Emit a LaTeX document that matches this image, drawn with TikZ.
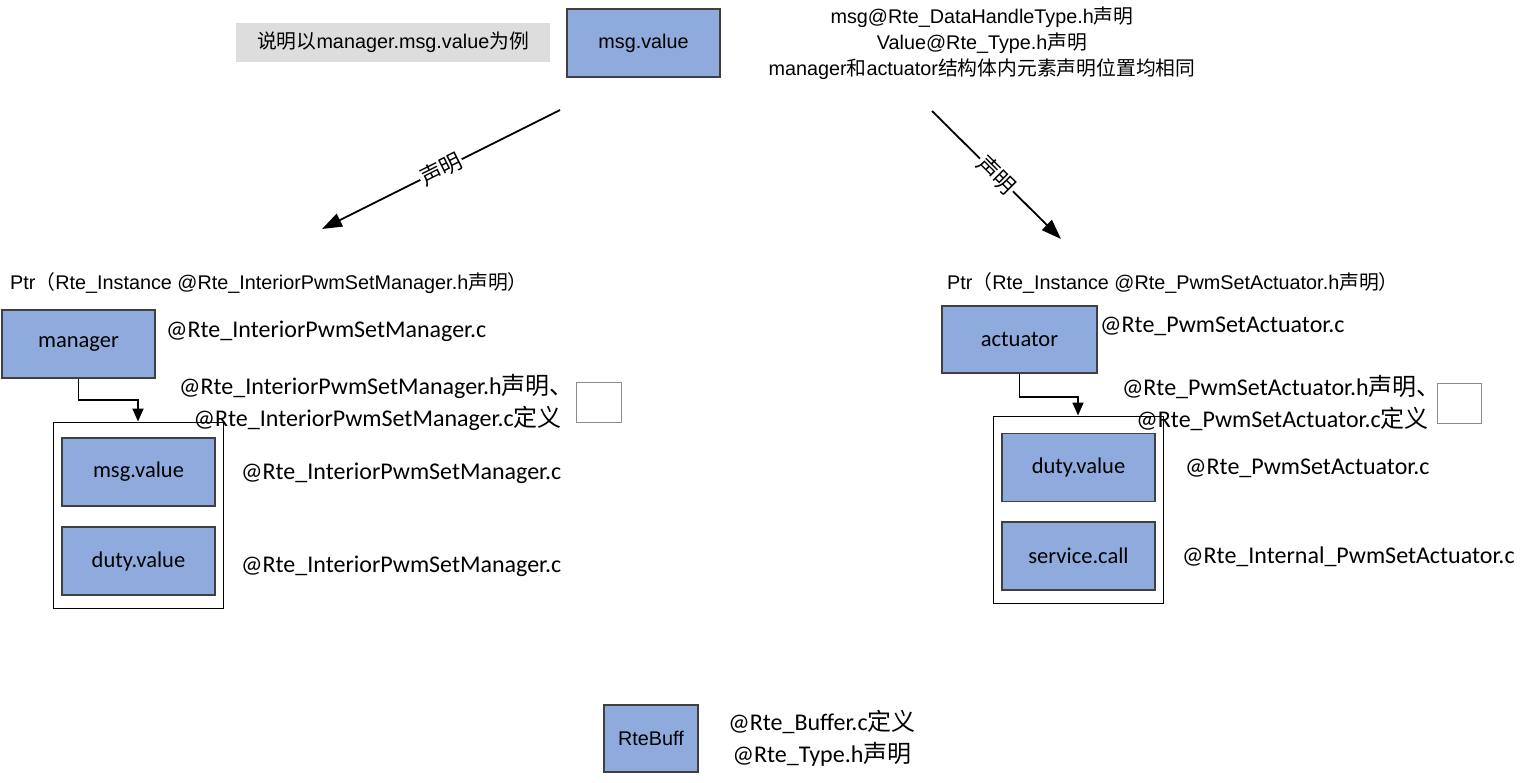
\documentclass[tikz,border=0pt]{standalone}
\usepackage{fontspec}
\setmainfont{Liberation Sans}
\newfontfamily\calfont{Carlito}
\newfontfamily\cjk{Noto Sans CJK SC}
\usetikzlibrary{arrows.meta}

\definecolor{blkblue}{HTML}{8FAADC}
\definecolor{notegray}{HTML}{DDDDDD}
\newcommand\zh[1]{{\cjk #1}}
\newcommand\arsz{\fontsize{19.8}{26}\selectfont}
\newcommand\calsz{\fontsize{24}{32}\selectfont\calfont}
\newcommand\insz{\fontsize{22.5}{26}\selectfont\calfont}

\tikzset{
  blk/.style={rectangle, draw=black!75, fill=blkblue, line width=1.2pt,
              minimum width=153pt, minimum height=68pt, inner sep=0pt,
              font=\insz},
  holder/.style={rectangle, draw=black, fill=white, line width=1pt,
                 minimum width=170pt, minimum height=186pt, inner sep=0pt},
  emptybox/.style={rectangle, draw=black!45, fill=white, line width=1pt,
                   minimum width=45pt, minimum height=40pt, inner sep=0pt},
  tag/.style={inner sep=0pt, font=\calsz},
  arlabel/.style={inner sep=0pt, font=\arsz},
  declarr/.style={line width=1.8pt, -{Triangle[length=20pt,width=14pt]}},
  conn/.style={line width=1.8pt, -{Triangle[length=13pt,width=11pt]}},
}

\begin{document}
\begin{tikzpicture}[x=1pt, y=-1pt]
\useasboundingbox (0,0) rectangle (1530,782);

% top row
\node[rectangle, fill=notegray, minimum width=314pt, minimum height=39pt,
      inner sep=0pt, font=\arsz] (note) at (393,42.5)
      {\zh{说明以}manager.msg.value\zh{为例}};
\node[blk, font=\arsz] (msgtop) at (643.5,43) {msg.value};
\node[arlabel, align=center] (typeinfo) at (982,43)
      {msg@Rte\_DataHandleType.h\zh{声明}\\
       Value@Rte\_Type.h\zh{声明}\\
       manager\zh{和}actuator\zh{结构体内元素声明位置均相同}};

\coordinate (declLfrom) at (560,110);
\coordinate (declLto)   at (322,229);
\coordinate (declRfrom) at (932,111);
\coordinate (declRto)   at (1061,239);
\draw[declarr] (declLfrom) -- node[sloped, fill=white, inner sep=1pt, font=\fontsize{22}{24}\selectfont] {\zh{声明}} (declLto);
\draw[declarr] (declRfrom) -- node[sloped, fill=white, inner sep=1pt, font=\fontsize{22}{24}\selectfont] {\zh{声明}} (declRto);

% manager side
\node[arlabel, anchor=west] (ptrmgr) at (10,283)
      {Ptr\zh{（}Rte\_Instance @Rte\_InteriorPwmSetManager.h\zh{声明）}};
\node[blk] (mgr) at (78.5,344) {manager};
\node[tag, anchor=west] (mgrsrc) at (166,331) {@Rte\_InteriorPwmSetManager.c};
\node[holder] (mgrhold) at (138,515) {};
\node[blk] (mgrmsg)  at (138.5,472) {msg.value};
\node[blk] (mgrduty) at (138.5,561) {duty.value};
\draw[conn] (mgr.south) -- ++(0,21) -| (mgrhold.north);
\node[tag, anchor=east, align=right] (mgrdecl) at (562,402)
      {@Rte\_InteriorPwmSetManager.h\zh{声明、}\hspace*{-12pt}\\
       @Rte\_InteriorPwmSetManager.c\zh{定义}};
\node[emptybox] (mgrempty) at (598.5,402) {};
\node[tag, anchor=west] (mgrmsgsrc)  at (241,473) {@Rte\_InteriorPwmSetManager.c};
\node[tag, anchor=west] (mgrdutysrc) at (241,566) {@Rte\_InteriorPwmSetManager.c};

% actuator side
\node[arlabel, anchor=west] (ptract) at (947,283)
      {Ptr\zh{（}Rte\_Instance @Rte\_PwmSetActuator.h\zh{声明）}};
\node[blk, minimum width=155pt, minimum height=67pt] (act) at (1019.5,339.5) {actuator};
\node[tag, anchor=west] (actsrc) at (1100,326) {@Rte\_PwmSetActuator.c};
\node[holder, minimum height=187pt] (acthold) at (1078,509.5) {};
\node[blk] (actduty) at (1078.5,467.5) {duty.value};
\node[blk] (actcall) at (1078.5,556) {service.call};
\draw[conn] (act.south) -- ++(0,23) -| (acthold.north);
\node[tag, anchor=east, align=right] (actdecl) at (1429,403)
      {@Rte\_PwmSetActuator.h\zh{声明、}\hspace*{-12pt}\\
       @Rte\_PwmSetActuator.c\zh{定义}};
\node[emptybox, minimum width=44pt] (actempty) at (1459,403) {};
\node[tag, anchor=west] (actdutysrc) at (1185,468) {@Rte\_PwmSetActuator.c};
\node[tag, anchor=west] (actcallsrc) at (1182,557) {@Rte\_Internal\_PwmSetActuator.c};

% buffer
\node[blk, font=\arsz, minimum width=94pt, minimum height=67pt] (buff) at (651,738.5) {RteBuff};
\node[tag, align=center] (buffsrc) at (822,738.5)
      {@Rte\_Buffer.c\zh{定义}\\
       @Rte\_Type.h\zh{声明}};
\end{tikzpicture}
\end{document}
